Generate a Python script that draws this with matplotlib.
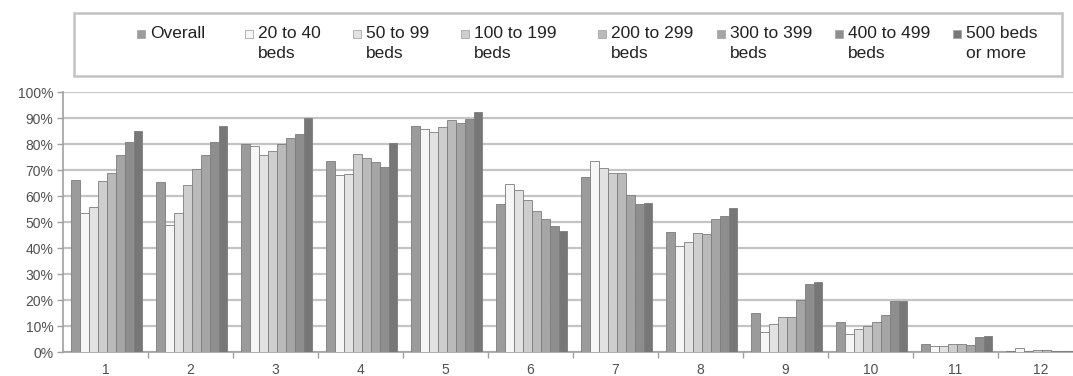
import numpy as np
import matplotlib
matplotlib.use("Agg")
import matplotlib.pyplot as plt
from matplotlib.patches import Rectangle
from matplotlib.lines import Line2D

plt.rcParams['font.family'] = ['Liberation Sans', 'DejaVu Sans']

categories = [str(i) for i in range(1, 13)]

series_labels = ["Overall", "20 to 40\nbeds", "50 to 99\nbeds", "100 to 199\nbeds",
                 "200 to 299\nbeds", "300 to 399\nbeds", "400 to 499\nbeds", "500 beds\nor more"]

overall    = [66.3, 65.2, 79.9, 73.5, 86.8, 57.0, 67.5, 46.2, 15.1, 11.7, 3.2, 0.3]
beds_20_40 = [53.5, 49.0, 79.1, 67.9, 85.8, 64.7, 73.4, 40.8, 7.8, 6.8, 2.3, 1.5]
beds_50_99 = [55.8, 53.3, 75.9, 68.5, 84.5, 62.4, 70.7, 42.4, 10.6, 8.7, 2.3, 0.4]
beds_100_199 = [65.7, 64.1, 77.5, 76.3, 86.4, 58.6, 68.9, 45.7, 13.3, 10.0, 3.2, 0.8]
beds_200_299 = [68.8, 70.2, 79.9, 74.8, 89.4, 54.3, 68.9, 45.2, 13.3, 11.7, 3.2, 0.7]
beds_300_399 = [75.8, 75.8, 82.5, 73.0, 88.2, 51.0, 60.2, 51.1, 20.0, 14.1, 2.7, 0.2]
beds_400_499 = [80.7, 80.7, 84.0, 71.3, 89.5, 48.5, 57.0, 52.5, 26.1, 19.7, 5.6, 0.2]
beds_500_plus = [85.0, 86.8, 90.1, 80.5, 92.3, 46.7, 57.5, 55.2, 27.1, 19.7, 6.1, 0.2]

series = [overall, beds_20_40, beds_50_99, beds_100_199,
          beds_200_299, beds_300_399, beds_400_499, beds_500_plus]

colors = ["#9b9b9b", "#f6f6f6", "#e2e2e2", "#cecece",
          "#bababa", "#a5a5a5", "#8e8e8e", "#777777"]

y_ticks = list(range(0, 101, 10))
y_tick_labels = [f"{v}%" for v in y_ticks]

W, H = 1073, 376
fig = plt.figure(figsize=(W / 100, H / 100), dpi=100)

# plot area: 0% baseline at y=352 px, 100% at y=92 px, groups 85 px wide
ax = fig.add_axes([63 / W, (H - 352) / H, 1020 / W, 260 / H])

n = len(series)
bar_w = 0.105
x = np.arange(1, len(categories) + 1)
for i, (vals, c) in enumerate(zip(series, colors)):
    offs = (i - (n - 1) / 2) * bar_w + 0.015
    ax.bar(x + offs, vals, width=bar_w, color=c, edgecolor="#7d7d7d",
           linewidth=0.6, zorder=3)

ax.set_xlim(0.5, len(categories) + 0.5)
ax.set_ylim(0, 100)
ax.set_yticks(y_ticks)
ax.set_yticklabels(y_tick_labels)
ax.set_xticks(x)
ax.set_xticklabels(categories)
ax.set_xticks(np.arange(1.5, len(categories) + 0.5, 1.0), minor=True)

ax.yaxis.grid(True, color="#c4c4c4", linewidth=1.6, zorder=0)
ax.set_axisbelow(True)
for s in ["top", "right"]:
    ax.spines[s].set_visible(False)
for s in ["left", "bottom"]:
    ax.spines[s].set_color("#a0a0a0")
    ax.spines[s].set_linewidth(1.2)

ax.tick_params(axis="y", colors="#a0a0a0", labelcolor="#505050", labelsize=10,
               length=4, width=1.0, direction="out", pad=3)
ax.tick_params(axis="x", which="major", length=0, labelcolor="#505050",
               labelsize=10, pad=8)
ax.tick_params(axis="x", which="minor", colors="#a0a0a0", length=4,
               width=1.0, direction="out")

# legend panel
def fx(px):
    return px / W

def fy(py):
    return 1 - py / H

fig.add_artist(Rectangle((fx(74), fy(76)), fx(1062) - fx(74), fy(13) - fy(76),
                         transform=fig.transFigure, facecolor="white",
                         edgecolor="#c2c2c2", linewidth=1.8))

marker_x = [141, 249, 357, 465, 602, 721, 839, 957]
for mx, lab, c in zip(marker_x, series_labels, colors):
    fig.add_artist(Line2D([fx(mx)], [fy(34)], marker="s", markersize=5.5,
                          markerfacecolor=c, markeredgecolor="#a8a8a8",
                          markeredgewidth=0.6, linestyle="none",
                          transform=fig.transFigure))
    fig.text(fx(mx + 9), fy(26), lab, ha="left", va="top", fontsize=12.5,
             color="#222222", linespacing=1.45)

fig.savefig("out.png", dpi=100, facecolor="white")
